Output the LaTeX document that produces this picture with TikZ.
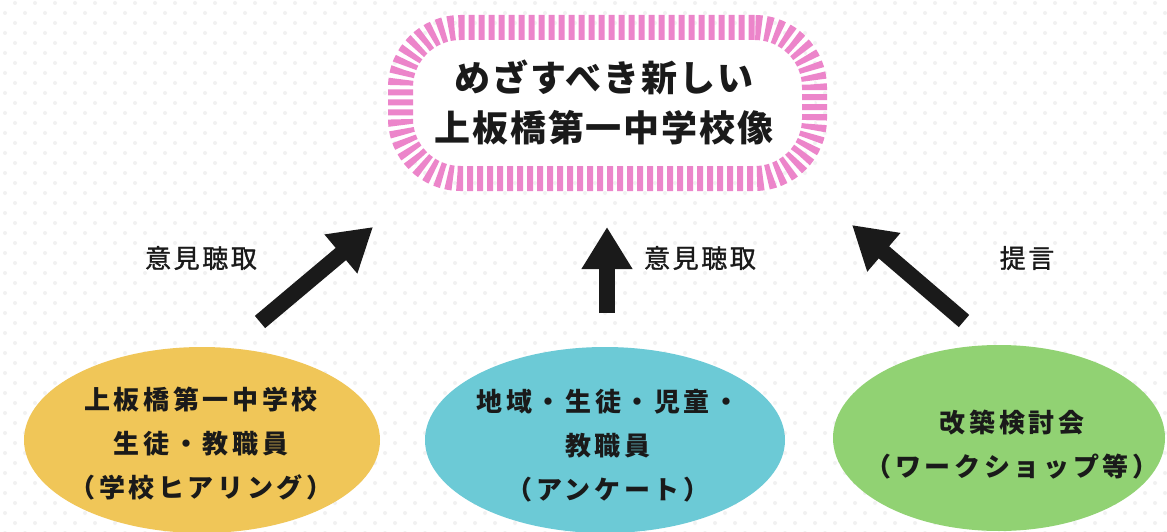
\documentclass[tikz,border=0pt]{standalone}
\usepackage{fontspec}
\newfontfamily\jp{Noto Sans CJK JP}
\usetikzlibrary{shapes.geometric,arrows.meta}
\definecolor{pinkc}{HTML}{EC85CA}
\definecolor{yelc}{HTML}{F0C658}
\definecolor{cyanc}{HTML}{6CCAD6}
\definecolor{greenc}{HTML}{91D273}
\definecolor{ink}{HTML}{1A1A1A}
\definecolor{dotc}{HTML}{F1F1F1}
\begin{document}
\begin{tikzpicture}[x=1pt,y=-1pt,
  blob/.style={ellipse, inner sep=0pt, draw=none},
  goalbox/.style={draw=pinkc, line width=25pt, dash pattern=on 6pt off 4pt,
     rounded corners=60pt, fill=white, inner sep=0pt},
  goaltext/.style={font=\jp\bfseries\fontsize{36}{50}\selectfont\addfontfeature{LetterSpace=5},
     align=center, text=ink},
  blobtext/.style={font=\jp\bfseries\fontsize{26}{44}\selectfont\addfontfeature{LetterSpace=14},
     align=center, text=ink},
  lbl/.style={font=\jp\fontsize{26}{30}\selectfont\addfontfeature{LetterSpace=10,FakeBold=1.2}, text=ink},
  bigarrow/.style={draw=ink, line width=16pt, -{Triangle[length=42pt,width=48pt]}}
]
\useasboundingbox (0,0) rectangle (1167,532);
\clip (0,0) rectangle (1167,532);
\fill[white] (0,0) rectangle (1167,532);
% background dots
\foreach \yy in {3,23,...,533} {\foreach \xx in {15,35,...,1175} {\fill[dotc] (\xx,\yy) circle (2pt);}}
\foreach \yy in {13,33,...,533} {\foreach \xx in {5,25,...,1175} {\fill[dotc] (\xx,\yy) circle (2pt);}}

% goal box
\node[goalbox, minimum width=414pt, minimum height=151pt] (goal) at (607.5,103) {};
\node[goaltext] (goalt) at (604,103) {めざすべき新しい\\上板橋第一中学校像};

% ellipses
\node[blob, fill=yelc, minimum width=356pt, minimum height=186pt] (school) at (202,440) {};
\node[blob, fill=cyanc, minimum width=360pt, minimum height=186pt] (survey) at (605,440) {};
\node[blob, fill=greenc, minimum width=332pt, minimum height=186pt] (review) at (999,438) {};

\node[blobtext] (schoolt) at (201,444) {上板橋第一中学校\\生徒・教職員\\（学校ヒアリング）};
\node[blobtext] (surveyt) at (608,446) {地域・生徒・児童・\\教職員\\（アンケート）};
\node[blobtext] (reviewt) at (1012,445) {改築検討会\\（ワークショップ等）};

% arrows
\coordinate (a1s) at (260,322);
\coordinate (a1e) at (373,227);
\coordinate (a2s) at (607,313);
\coordinate (a2e) at (607,227);
\coordinate (a3s) at (964,321);
\coordinate (a3e) at (852,225);
\draw[bigarrow] (a1s) -- (a1e);
\draw[bigarrow] (a2s) -- (a2e);
\draw[bigarrow] (a3s) -- (a3e);

% labels
\node[lbl] (l1) at (201,258) {意見聴取};
\node[lbl] (l2) at (700,258) {意見聴取};
\node[lbl] (l3) at (1027,258) {提言};
\end{tikzpicture}
\end{document}
